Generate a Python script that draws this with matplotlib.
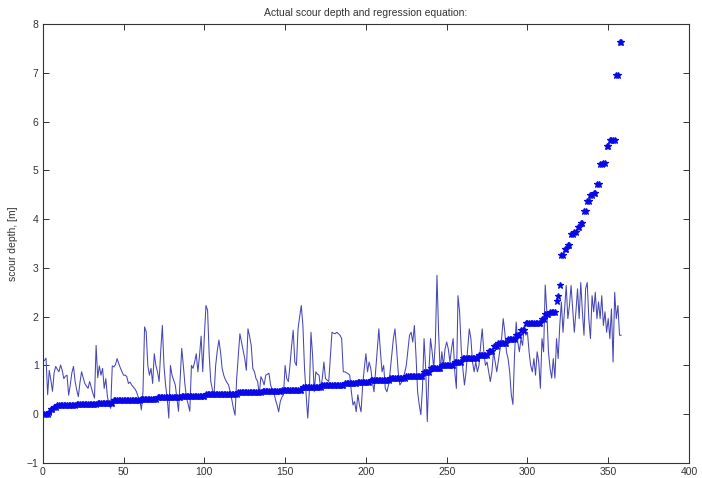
import numpy as np
import matplotlib
matplotlib.use("Agg")
import matplotlib.pyplot as plt

# measured scour depths, sorted: level [m] and how many gauges sit at that level
depth_levels = [0.00, 0.05, 0.10, 0.15, 0.18, 0.20, 0.23, 0.29, 0.32, 0.35,
                0.38, 0.42, 0.45, 0.48, 0.50, 0.56, 0.60, 0.63, 0.67, 0.70,
                0.74, 0.78, 0.87, 0.94, 1.00, 1.08, 1.15, 1.21, 1.30, 1.39,
                1.45, 1.55, 1.62, 1.72, 1.86, 1.95, 2.06, 2.10,
                2.33, 2.43, 2.64, 3.27, 3.39, 3.46, 3.69, 3.73, 3.83, 3.93,
                4.16, 4.37, 4.50, 4.54, 4.73, 5.12, 5.16, 5.50, 5.63, 6.96, 7.63]
depth_counts = [3, 1, 2, 2, 12, 13, 10, 17, 10, 15,
                15, 20, 15, 12, 13, 12, 14, 8, 8, 12,
                10, 11, 4, 7, 8, 5, 10, 6, 3, 3,
                6, 5, 3, 3, 10, 2, 3, 4,
                1, 1, 1, 2, 2, 2, 2, 2, 2, 2,
                2, 2, 2, 2, 2, 2, 2, 2, 4, 2, 2]

# depths from the regression equation, same ordering
predicted = [
    1.10, 1.15, 0.40, 0.90, 0.70, 0.47, 0.85, 0.98, 0.92, 0.87,
    1.01, 0.90, 0.73, 0.78, 0.80, 0.39, 0.60, 0.85, 0.98, 0.67,
    0.50, 0.36, 0.65, 0.87, 0.75, 0.63, 0.58, 0.53, 0.67, 0.55,
    0.43, 0.33, 1.41, 0.75, 0.99, 0.80, 0.94, 0.53, 0.73, 0.36,
    0.20, 0.12, 0.99, 0.97, 1.02, 1.14, 1.04, 0.95, 0.87, 0.80,
    0.80, 0.77, 0.63, 0.66, 0.60, 0.56, 0.52, 0.46, 0.36, 0.30,
    0.09, 0.46, 1.79, 1.69, 1.00, 0.80, 0.94, 0.63, 1.24, 1.00,
    0.87, 0.67, 1.30, 1.82, 1.00, 0.60, 0.33, -0.08, 1.00, 0.80,
    0.70, 0.60, 0.33, 0.06, 0.70, 1.35, 1.00, 0.60, 0.33, 0.20,
    0.06, 1.00, 0.94, 1.07, 1.24, 0.87, 1.20, 1.60, 0.87, 1.60,
    2.23, 2.13, 1.21, 0.67, 0.50, 0.40, 1.00, 1.30, 1.52, 1.28,
    0.94, 0.80, 0.71, 0.65, 0.60, 0.46, 0.30, 0.12, -0.02, 0.73,
    1.20, 1.65, 1.48, 1.30, 1.14, 0.90, 1.75, 1.60, 1.41, 0.94,
    0.87, 0.73, 0.67, 0.40, 0.77, 0.70, 0.60, 0.80, 0.82, 0.84,
    0.60, 0.50, 0.46, 0.30, 0.19, 0.05, 0.26, 0.35, 0.40, 1.00,
    0.73, 0.67, 1.00, 1.40, 1.72, 1.07, 1.00, 1.75, 2.00, 2.23,
    1.82, 0.94, 0.40, -0.08, 0.46, 1.68, 1.21, 0.46, 0.87, 0.82,
    0.80, 0.53, 0.73, 1.07, 0.73, 0.70, 0.67, 1.17, 1.68, 1.66,
    1.65, 1.68, 1.65, 1.62, 1.55, 0.87, 0.87, 0.85, 0.83, 0.80,
    0.46, 0.19, 0.26, 0.05, 0.40, 0.19, 0.05, 0.60, 0.94, 1.24,
    0.87, 1.07, 0.94, 0.67, 0.46, 0.87, 1.30, 1.75, 1.28, 0.87,
    1.00, 0.53, 0.46, 0.60, 0.87, 1.20, 1.55, 1.75, 1.34, 0.87,
    0.60, 0.65, 0.74, 0.85, 1.00, 1.30, 1.62, 1.68, 1.48, 1.82,
    1.21, 0.46, 0.20, -0.01, 0.53, 1.55, 0.94, -0.15, 0.87, 1.55,
    1.28, 0.94, 1.48, 2.85, 1.68, 0.87, 1.28, 1.00, 1.34, 1.48,
    1.34, 1.07, 1.34, 1.55, 0.87, 0.53, 2.43, 2.10, 1.34, 0.94,
    0.60, 0.87, 1.34, 1.75, 1.55, 1.07, 0.87, 1.07, 0.87, 1.00,
    1.40, 1.75, 1.28, 1.00, 1.07, 0.87, 0.67, 0.87, 1.28, 1.07,
    0.87, 1.10, 1.34, 1.55, 1.96, 1.68, 1.28, 1.14, 0.87, 0.40,
    0.20, 1.21, 1.89, 1.48, 1.28, 1.55, 1.41, 1.82, 1.62, 1.68,
    1.28, 1.00, 0.87, 1.14, 0.80, 1.28, 1.07, 0.53, 1.55, 1.28,
    2.65, 2.10, 1.28, 0.94, 0.74, 1.14, 0.74, 1.55, 1.14, 1.82,
    2.30, 1.68, 2.16, 2.64, 1.96, 2.23, 2.64, 2.16, 1.68, 2.10,
    2.57, 1.96, 2.70, 2.10, 1.62, 2.57, 2.70, 1.96, 1.55, 2.43,
    2.10, 2.50, 1.96, 2.30, 1.96, 2.43, 1.82, 2.10, 1.68, 1.96,
    1.55, 2.16, 1.07, 2.50, 1.96, 2.23, 1.62, 1.62,
]

x_ticks = [0, 50, 100, 150, 200, 250, 300, 350, 400]
y_ticks = [-1, 0, 1, 2, 3, 4, 5, 6, 7, 8]

actual = np.repeat(depth_levels, depth_counts)
idx = np.arange(1, len(actual) + 1)

plt.rcParams['font.family'] = ['Liberation Sans', 'DejaVu Sans']

fig = plt.figure(figsize=(7.02, 4.78), dpi=100)
ax = fig.add_axes([42.8 / 702, 15 / 478, 646.2 / 702, 439 / 478])

ax.plot(idx, predicted, '-', color='#4646b8', lw=0.75, zorder=2)
ax.plot(idx, actual, '*', color='#0808e8', ms=4.5, mew=0.9, zorder=3)

ax.set_xlim(0, 400)
ax.set_ylim(-1, 8)
ax.set_xticks(x_ticks)
ax.set_yticks(y_ticks)
ax.tick_params(direction='in', top=True, right=True, length=4, width=0.7,
               labelsize=7.5, colors='#333333', pad=3)
for s in ax.spines.values():
    s.set_linewidth(0.8)
    s.set_color('#333333')

ax.set_title('Actual scour depth and regression equation:', fontsize=7.5,
             color='#333333', pad=6)
ax.set_ylabel('scour depth, [m]', fontsize=7.5, color='#333333', labelpad=6)

fig.savefig('out.png', dpi=100)
